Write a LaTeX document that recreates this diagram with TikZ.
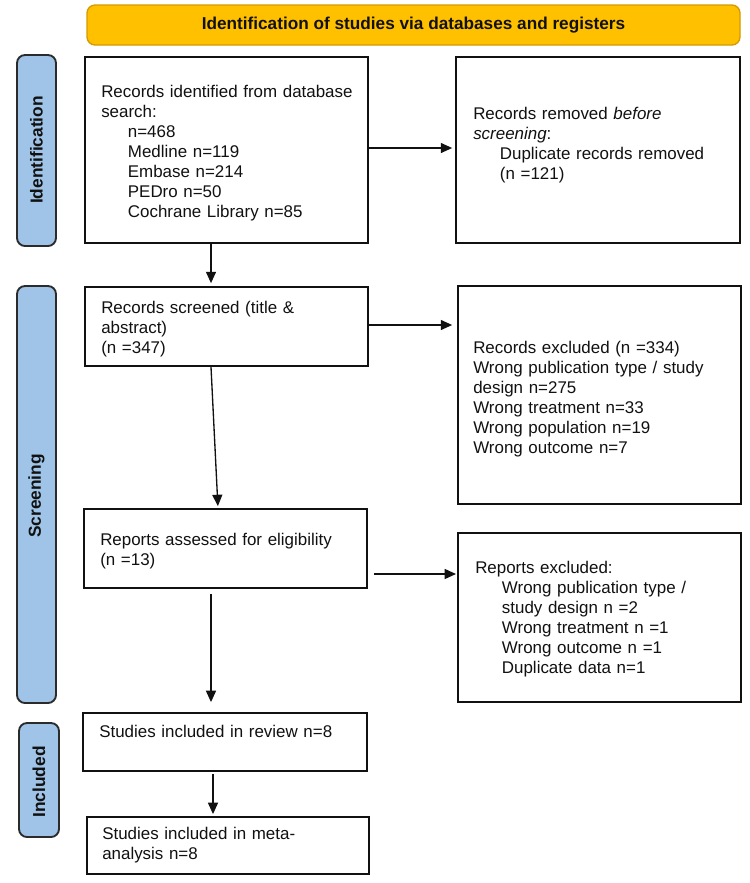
\documentclass[tikz,border=0pt]{standalone}
\usepackage{fontspec}
\setmainfont{Liberation Sans}
\usetikzlibrary{arrows.meta,calc,fit}
\definecolor{bannerfill}{HTML}{FFC000}
\definecolor{bannerdraw}{HTML}{D49A00}
\definecolor{phasefill}{HTML}{A0C4E8}
\definecolor{phasedraw}{HTML}{2B2B2B}
\definecolor{ink}{HTML}{111111}
\newcommand{\myind}{\hspace*{20pt}}
\begin{document}
\begin{tikzpicture}[x=0.75pt,y=-0.75pt,
  box/.style={draw=ink, line width=1.4pt, inner sep=0pt},
  phase/.style={draw=phasedraw, fill=phasefill, line width=1.4pt, rounded corners=6pt, inner sep=0pt},
  banner/.style={draw=bannerdraw, fill=bannerfill, line width=1pt, rounded corners=6pt, inner sep=0pt},
  txt/.style={font=\fontsize{12.7}{15}\selectfont, text=ink, align=left, text width=200pt, inner sep=0pt, anchor=base west},
  phasetxt/.style={font=\fontsize{13}{15}\selectfont\bfseries, text=ink, rotate=90, inner sep=0pt},
  bantxt/.style={font=\fontsize{12.9}{15}\selectfont\bfseries, text=ink, inner sep=0pt},
  arr/.style={-{Triangle[length=8.5pt,width=7.5pt]}, line width=1pt, draw=ink}]
\fill[white] (0,0) rectangle (750,883);
\useasboundingbox (0,0) rectangle (750,883);

% banner
\node[banner, fit={(87,5)(740,45)}] (ban) {};
\node[bantxt] (bant) at (ban.center) {Identification of studies via databases and registers};

% phase labels
\node[phase, fit={(17,55)(56,246)}] (p1) {};
\node[phasetxt] (p1t) at (36.5,150) {Identification};
\node[phase, fit={(17,286)(56,703)}] (p2) {};
\node[phasetxt] (p2t) at (36.5,496) {Screening};
\node[phase, fit={(19,723)(59,837)}] (p3) {};
\node[phasetxt] (p3t) at (39,782) {Included};

% boxes
\node[box, fit={(85,57)(368,243)}] (b1) {};
\node[box, fit={(456,57)(740,243)}] (b2) {};
\node[box, fit={(85,287)(368,366)}] (b3) {};
\node[box, fit={(458,286)(741,504)}] (b4) {};
\node[box, fit={(84,509)(367,588)}] (b5) {};
\node[box, fit={(458,533)(741,702)}] (b6) {};
\node[box, fit={(83,713)(367,771)}] (b7) {};
\node[box, fit={(87,817)(369,874)}] (b8) {};

% texts
\node[txt] (t1) at (101,97) {Records identified from database\\search:\\\myind n=468\\\myind Medline n=119\\\myind Embase n=214\\\myind PEDro n=50\\\myind Cochrane Library n=85};
\node[txt] (t2) at (473,119) {Records removed \textit{before}\\\textit{screening}:\\\myind Duplicate records removed\\\myind (n =121)};
\node[txt] (t3) at (101,313) {Records screened (title \&\\abstract)\\(n =347)};
\node[txt] (t4) at (473,353) {Records excluded (n =334)\\Wrong publication type / study\\design n=275\\Wrong treatment n=33\\Wrong population n=19\\Wrong outcome n=7};
\node[txt] (t5) at (100,545) {Reports assessed for eligibility\\(n =13)};
\node[txt] (t6) at (475,573) {Reports excluded:\\\myind Wrong publication type /\\\myind study design n =2\\\myind Wrong treatment n =1\\\myind Wrong outcome n =1\\\myind Duplicate data n=1};
\node[txt] (t7) at (99,737) {Studies included in review n=8};
\node[txt] (t8) at (102,839) {Studies included in meta-\\analysis n=8};

% connector helpers
\coordinate (xa) at (211,0);
\coordinate (xb) at (218,0);
\coordinate (xc) at (213,0);
\coordinate (ya) at (0,148);
\coordinate (yb) at (0,325);
\coordinate (yc) at (0,574);

\draw[arr, shorten >=2.2pt] (b1.east |- ya) -- (b2.west |- ya);
\draw[arr, shorten >=2.2pt] (b1.south -| xa) -- (b3.north -| xa);
\draw[arr, shorten >=3.7pt] (b3.east |- yb) -- (b4.west |- yb);
\draw[arr, shorten >=1.5pt] (b3.south -| xa) -- (b5.north -| xb);
\draw[arr, shorten <=4.5pt, shorten >=0.8pt] (b5.east |- yc) -- (b6.west |- yc);
\draw[arr, shorten <=3.7pt, shorten >=7.5pt] (b5.south -| xa) -- (b7.north -| xa);
\draw[arr, shorten <=1.5pt, shorten >=1.5pt] (b7.south -| xc) -- (b8.north -| xc);
\end{tikzpicture}
\end{document}
